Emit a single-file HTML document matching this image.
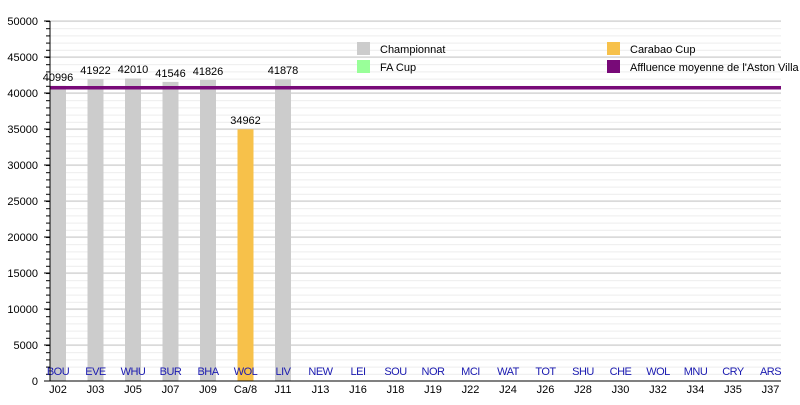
<!DOCTYPE html><html><head><style>body{margin:0;background:#fff}svg{font-family:"Liberation Sans",sans-serif}</style></head><body>
<svg width="800" height="400" xmlns="http://www.w3.org/2000/svg">
<defs>
<pattern id="mg" patternUnits="userSpaceOnUse" x="0" y="6.6" width="800" height="7.2"><rect x="0" y="0" width="800" height="1" fill="#ececec"/></pattern>
<pattern id="mt" patternUnits="userSpaceOnUse" x="0" y="6.6" width="800" height="7.2"><rect x="0" y="0" width="800" height="1" fill="#000"/></pattern>
</defs>
<rect x="50" y="21" width="731" height="360" fill="url(#mg)"/>
<rect x="46" y="21" width="4" height="360" fill="url(#mt)"/>
<g stroke="#c8c8c8">
<line x1="50" x2="781" y1="345" y2="345"/><line x1="50" x2="781" y1="309" y2="309"/><line x1="50" x2="781" y1="273" y2="273"/><line x1="50" x2="781" y1="237" y2="237"/><line x1="50" x2="781" y1="201" y2="201"/><line x1="50" x2="781" y1="165" y2="165"/><line x1="50" x2="781" y1="129" y2="129"/><line x1="50" x2="781" y1="93" y2="93"/><line x1="50" x2="781" y1="57" y2="57"/><line x1="50" x2="781" y1="21" y2="21"/>
</g>
<g stroke="#000">
<line x1="44" x2="50" y1="345" y2="345"/><line x1="44" x2="50" y1="309" y2="309"/><line x1="44" x2="50" y1="273" y2="273"/><line x1="44" x2="50" y1="237" y2="237"/><line x1="44" x2="50" y1="201" y2="201"/><line x1="44" x2="50" y1="165" y2="165"/><line x1="44" x2="50" y1="129" y2="129"/><line x1="44" x2="50" y1="93" y2="93"/><line x1="44" x2="50" y1="57" y2="57"/><line x1="44" x2="50" y1="21" y2="21"/>
</g>
<g font-size="11" text-anchor="end">
<text x="38" y="385">0</text><text x="38" y="349">5000</text><text x="38" y="313">10000</text><text x="38" y="277">15000</text><text x="38" y="241">20000</text><text x="38" y="205">25000</text><text x="38" y="169">30000</text><text x="38" y="133">35000</text><text x="38" y="97">40000</text><text x="38" y="61">45000</text><text x="38" y="25">50000</text>
</g>
<g fill="#cccccc">
<rect x="50" y="85.8" width="16" height="295.2"/><rect x="87.5" y="79.2" width="16" height="301.8"/><rect x="125" y="78.5" width="16" height="302.5"/><rect x="162.5" y="81.9" width="16" height="299.1"/><rect x="200" y="79.9" width="16" height="301.1"/><rect x="275" y="79.5" width="16" height="301.5"/>
</g>
<rect x="237.5" y="129.3" width="16" height="251.7" fill="#f7c14a"/>
<g font-size="11" text-anchor="middle">
<text x="58" y="81">40996</text><text x="95.5" y="74">41922</text><text x="133" y="73">42010</text><text x="170.5" y="77">41546</text><text x="208" y="75">41826</text><text x="245.5" y="124">34962</text><text x="283" y="74">41878</text>
</g>
<g font-size="11" text-anchor="middle" fill="#1a1ab0" letter-spacing="-0.5">
<text x="58" y="375">BOU</text><text x="95.5" y="375">EVE</text><text x="133" y="375">WHU</text><text x="170.5" y="375">BUR</text><text x="208" y="375">BHA</text><text x="245.5" y="375">WOL</text><text x="283" y="375">LIV</text><text x="320.5" y="375">NEW</text><text x="358" y="375">LEI</text><text x="395.5" y="375">SOU</text><text x="433" y="375">NOR</text><text x="470.5" y="375">MCI</text><text x="508" y="375">WAT</text><text x="545.5" y="375">TOT</text><text x="583" y="375">SHU</text><text x="620.5" y="375">CHE</text><text x="658" y="375">WOL</text><text x="695.5" y="375">MNU</text><text x="733" y="375">CRY</text><text x="770.5" y="375">ARS</text>
</g>
<g font-size="11" text-anchor="middle">
<text x="58" y="393">J02</text><text x="95.5" y="393">J03</text><text x="133" y="393">J05</text><text x="170.5" y="393">J07</text><text x="208" y="393">J09</text><text x="245.5" y="393">Ca/8</text><text x="283" y="393">J11</text><text x="320.5" y="393">J13</text><text x="358" y="393">J16</text><text x="395.5" y="393">J18</text><text x="433" y="393">J19</text><text x="470.5" y="393">J22</text><text x="508" y="393">J24</text><text x="545.5" y="393">J26</text><text x="583" y="393">J28</text><text x="620.5" y="393">J30</text><text x="658" y="393">J32</text><text x="695.5" y="393">J34</text><text x="733" y="393">J35</text><text x="770.5" y="393">J37</text>
</g>
<line x1="50" x2="781" y1="87.7" y2="87.7" stroke="#780a78" stroke-width="3.5"/>
<line x1="50" x2="50" y1="21" y2="381" stroke="#000"/>
<line x1="44" x2="781" y1="381" y2="381" stroke="#000"/>
<g font-size="11">
<rect x="357" y="42" width="13" height="13" fill="#cccccc"/><text x="380" y="53">Championnat</text>
<rect x="357" y="60" width="13" height="13" fill="#99ff99"/><text x="380" y="71">FA Cup</text>
<rect x="607" y="42" width="13" height="13" fill="#f7c14a"/><text x="630" y="53">Carabao Cup</text>
<rect x="607" y="60" width="13" height="13" fill="#780a78"/><text x="630" y="71">Affluence moyenne de l'Aston Villa FC</text>
</g>
</svg></body></html>
